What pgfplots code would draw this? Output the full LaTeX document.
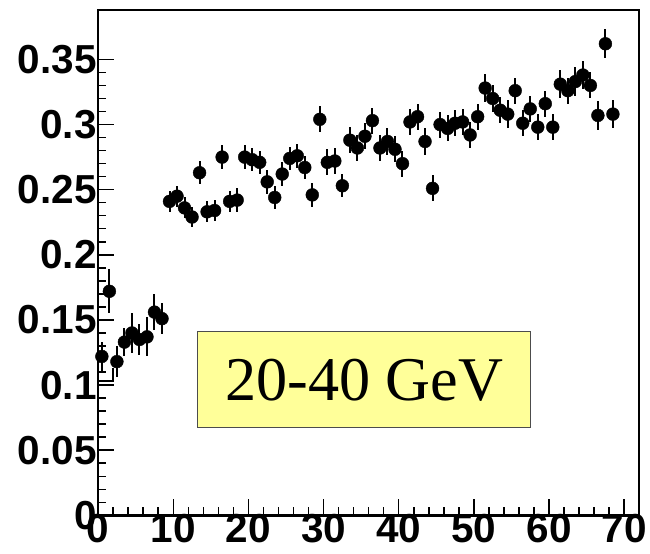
\documentclass[border=0pt]{standalone}
\usepackage{fontspec}
\setmainfont{Liberation Serif}
\setsansfont{Liberation Sans}
\usepackage{pgfplots}
\pgfplotsset{compat=1.18}
\usepackage{pgfplotstable}
\definecolor{boxyellow}{RGB}{255,255,153}

\pgfplotstableread{
x y ey
0.5 0.122 0.011
1.5 0.172 0.017
2.5 0.118 0.012
3.5 0.133 0.011
4.5 0.140 0.015
5.5 0.135 0.012
6.5 0.137 0.015
7.5 0.156 0.014
8.5 0.151 0.012
9.5 0.241 0.008
10.5 0.245 0.008
11.5 0.236 0.008
12.5 0.229 0.008
13.5 0.263 0.009
14.5 0.233 0.008
15.5 0.234 0.008
16.5 0.275 0.009
17.5 0.241 0.008
18.5 0.242 0.009
19.5 0.275 0.009
20.5 0.273 0.009
21.5 0.271 0.009
22.5 0.256 0.009
23.5 0.244 0.009
24.5 0.262 0.009
25.5 0.274 0.009
26.5 0.276 0.009
27.5 0.267 0.009
28.5 0.246 0.009
29.5 0.304 0.010
30.5 0.271 0.010
31.5 0.272 0.010
32.5 0.253 0.009
33.5 0.288 0.010
34.5 0.282 0.010
35.5 0.291 0.010
36.5 0.303 0.010
37.5 0.282 0.010
38.5 0.287 0.010
39.5 0.281 0.010
40.5 0.270 0.010
41.5 0.302 0.010
42.5 0.306 0.010
43.5 0.287 0.010
44.5 0.251 0.010
45.5 0.300 0.010
46.5 0.297 0.010
47.5 0.301 0.010
48.5 0.302 0.010
49.5 0.292 0.010
50.5 0.306 0.010
51.5 0.328 0.011
52.5 0.320 0.010
53.5 0.311 0.010
54.5 0.308 0.011
55.5 0.326 0.010
56.5 0.301 0.010
57.5 0.312 0.010
58.5 0.298 0.010
59.5 0.316 0.010
60.5 0.298 0.010
61.5 0.331 0.011
62.5 0.326 0.010
63.5 0.333 0.011
64.5 0.338 0.011
65.5 0.330 0.010
66.5 0.307 0.011
67.5 0.362 0.011
68.5 0.308 0.011
}\datatable

\begin{document}
\begin{tikzpicture}
\begin{axis}[
  scale only axis,
  width=546bp, height=510bp,
  xmin=0, xmax=72, ymin=0, ymax=0.388,
  axis line style={line width=2.5bp},
  tick style={line width=1.5bp, black},
  tick align=inside,
  xtick pos=left, ytick pos=left,
  major tick length=16bp, minor tick length=8bp,
  xtick={0,10,20,30,40,50,60,70},
  minor x tick num=4,
  ytick={0,0.05,0.1,0.15,0.2,0.25,0.3,0.35},
  yticklabels={0,0.05,0.1,0.15,0.2,0.25,0.3,0.35},
  minor y tick num=4,
  /pgf/number format/assume math mode=true,
  tick label style={font=\fontsize{41}{41}\selectfont\sffamily\bfseries},
  xticklabel style={yshift=5bp},
  yticklabel style={xshift=2bp},
  clip=false,
]
\addplot[black, line width=1.5bp] coordinates {(0,0.103) (2,0.103) (2,0.113)};
\addplot[only marks, mark=*, mark size=6.5bp, black,
  error bars/.cd, y dir=both, y explicit,
  error bar style={line width=2bp, black}, error mark=none]
  table[x=x, y=y, y error=ey] {\datatable};
\node[fill=boxyellow, draw=black!70, line width=1bp, minimum width=336bp,
  minimum height=97bp, inner sep=0pt,
  font=\fontsize{63}{63}\selectfont] at (axis cs:35.4,0.104) {20-40 GeV};
\end{axis}
\path ([xshift=-99bp,yshift=-38bp]current axis.south west) rectangle ([xshift=5bp,yshift=10bp]current axis.north east);
\end{tikzpicture}
\end{document}
